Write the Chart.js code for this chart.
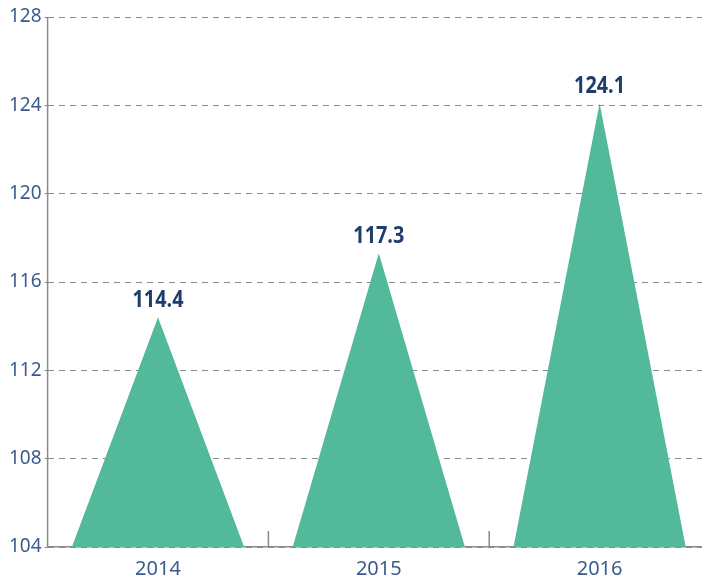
<!DOCTYPE html>
<html><head><meta charset="utf-8">
<script src="https://cdn.jsdelivr.net/npm/chart.js@4"></script>
<style>html,body{margin:0;padding:0;overflow:hidden;background:#fff;width:702px;height:579px}</style>
</head><body>
<canvas id="c" width="710" height="591"></canvas>
<script>
const categories = ['2014', '2015', '2016'];
const values = [114.4, 117.3, 124.1];
const yTicks = [104, 108, 112, 116, 120, 124, 128];

const triangles = {
  id: 'triangles',
  afterDatasetsDraw(chart) {
    const ctx = chart.ctx;
    const x = chart.scales.x, y = chart.scales.y;
    const area = chart.chartArea;
    const catW = x.getPixelForValue(1) - x.getPixelForValue(0);
    const half = catW * 0.78 / 2;
    const base = y.getPixelForValue(y.min);
    ctx.save();
    ctx.strokeStyle = '#8a8a8a';
    ctx.lineWidth = 1.5;
    ctx.beginPath();
    ctx.moveTo(area.left, area.top);
    ctx.lineTo(area.left, area.bottom);
    ctx.stroke();
    values.forEach((v, i) => {
      const cx = x.getPixelForValue(i);
      const top = y.getPixelForValue(v);
      ctx.fillStyle = '#52b99b';
      ctx.beginPath();
      ctx.moveTo(cx - half, base);
      ctx.lineTo(cx, top);
      ctx.lineTo(cx + half, base);
      ctx.closePath();
      ctx.fill();
      ctx.fillStyle = '#1f3d6c';
      ctx.font = 'bold 23px "Open Sans"';
      ctx.textAlign = 'center';
      ctx.textBaseline = 'alphabetic';
      ctx.fillText(v.toFixed(1), cx, top - 10, 51);
    });
    ctx.strokeStyle = '#8a8a8a';
    ctx.lineWidth = 1.5;
    for (let i = 0; i < categories.length - 1; i++) {
      const bx = (x.getPixelForValue(i) + x.getPixelForValue(i + 1)) / 2;
      ctx.beginPath();
      ctx.moveTo(bx, area.bottom);
      ctx.lineTo(bx, area.bottom - 16);
      ctx.stroke();
    }
    ctx.restore();
  }
};

new Chart(document.getElementById('c'), {
  type: 'bar',
  data: {
    labels: categories,
    datasets: [{ data: values, backgroundColor: 'rgba(0,0,0,0)', categoryPercentage: 0.78, barPercentage: 1 }]
  },
  options: {
    responsive: false,
    animation: false,
    layout: { padding: { left: 6, top: 17, right: 0, bottom: 0 } },
    plugins: { legend: { display: false }, tooltip: { enabled: false } },
    scales: {
      x: {
        grid: { display: false, drawTicks: false },
        border: { display: true, color: '#8a8a8a', width: 1.5 },
        ticks: { color: '#3b5b8f', font: { family: '"Noto Sans"', size: 20, lineHeight: 1.2 }, padding: 10 }
      },
      y: {
        min: 104, max: 128,
        afterBuildTicks(scale) { scale.ticks = yTicks.map(v => ({ value: v })); },
        grid: { color: '#8a8a8a', lineWidth: 1, tickLength: 3, tickColor: '#8a8a8a' },
        border: { display: false, dash: [6, 5] },
        ticks: { color: '#3b5b8f', font: { family: '"Noto Sans"', size: 19 }, padding: 3 }
      }
    }
  },
  plugins: [triangles]
});
</script>
</body></html>
